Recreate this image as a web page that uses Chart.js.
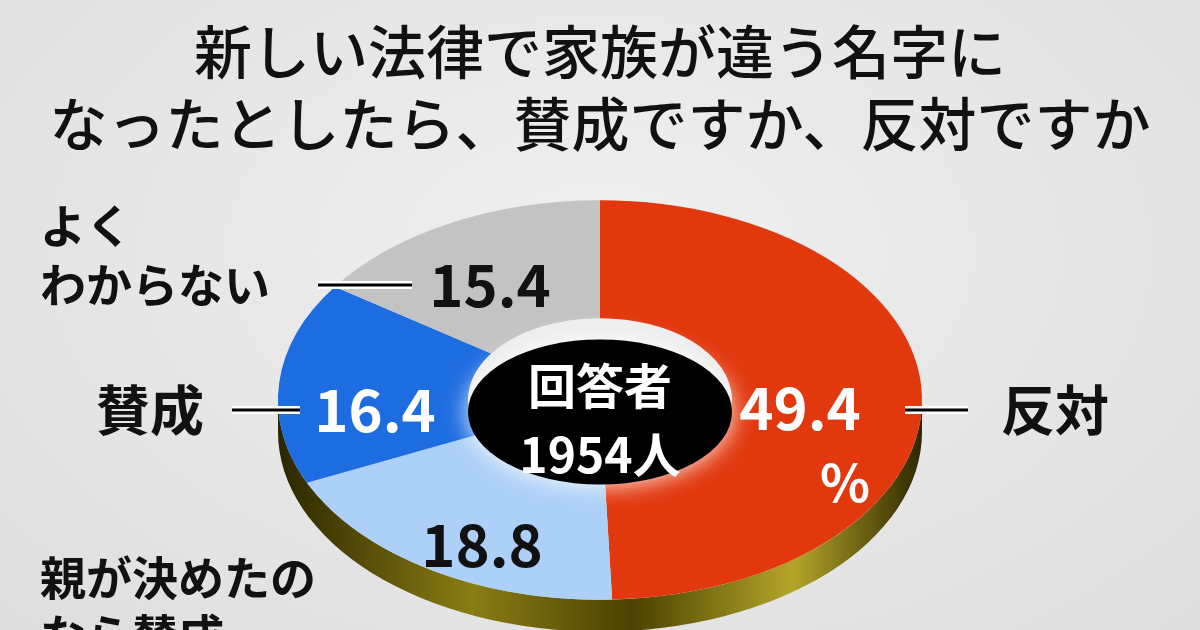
<!DOCTYPE html>
<html><head><meta charset="utf-8">
<script src="https://cdn.jsdelivr.net/npm/chart.js@4.4.0/dist/chart.umd.min.js"></script>
<style>
html,body{margin:0;padding:0;background:#e4e4e4;}
#wrap{width:1200px;height:630px;overflow:hidden;position:relative;
 background:radial-gradient(ellipse at 50% 40%,#f0f0f0 0%,#dedede 100%);}
</style></head><body>
<div id="wrap"><canvas id="c" width="1200" height="900"></canvas></div>
<script>
const labels = ['反対', '親が決めたなら賛成', '賛成', 'よくわからない'];
const values = [49.4, 18.8, 16.4, 15.4];
const colors = ['#e2380e', '#acd0f7', '#1d6ce0', '#c3c3c3'];
const titleLines = ['新しい法律で家族が違う名字に', 'なったとしたら、賛成ですか、反対ですか'];
const FONT = '"Noto Sans CJK JP", "Noto Sans", sans-serif';
const SY = 0.62;

const squash = {
    id: 'squash',
    beforeDatasetsDraw(chart) {
        const meta = chart.getDatasetMeta(0).data[0];
        const ctx = chart.ctx;
        const cx = meta.x, cy = meta.y, r = meta.outerRadius;
        // 3D side
        ctx.save();
        const g = ctx.createLinearGradient(cx - r, 0, cx + r, 0);
        g.addColorStop(0, '#2b2600');
        g.addColorStop(0.3, '#8a7d14');
        g.addColorStop(0.55, '#4a4200');
        g.addColorStop(0.8, '#b5a52a');
        g.addColorStop(1, '#2e2800');
        ctx.fillStyle = g;
        ctx.beginPath();
        ctx.ellipse(cx, cy + 32, r, r * SY, 0, 0, Math.PI);
        ctx.lineTo(cx - r, cy);
        ctx.ellipse(cx, cy, r, r * SY, 0, Math.PI, 0, true);
        ctx.closePath();
        ctx.fill();
        ctx.restore();
        ctx.save();
        ctx.translate(cx, cy);
        ctx.scale(1, SY);
        ctx.translate(-cx, -cy);
    },
    afterDatasetsDraw(chart) {
        const ctx = chart.ctx;
        ctx.restore();
        const meta = chart.getDatasetMeta(0).data[0];
        const cx = meta.x, cy = meta.y, ir = meta.innerRadius;
        ctx.save();
        ctx.shadowColor = 'rgba(255,255,255,0.95)';
        ctx.shadowBlur = 25;
        ctx.fillStyle = '#000';
        ctx.beginPath();
        ctx.ellipse(cx, cy + 12, ir, ir * 0.55, 0, 0, Math.PI * 2);
        ctx.fill();
        ctx.restore();
    }
};

function txt(ctx, s, x, y, size, color, align, outline) {
    ctx.font = 'bold ' + size + 'px ' + FONT;
    ctx.textAlign = align || 'center';
    ctx.textBaseline = 'middle';
    if (outline) {
        ctx.lineWidth = 6;
        ctx.strokeStyle = outline;
        ctx.lineJoin = 'round';
        ctx.strokeText(s, x, y);
    }
    ctx.fillStyle = color;
    ctx.fillText(s, x, y);
}
function leader(ctx, x1, x2, y) {
    ctx.lineCap = 'butt';
    ctx.strokeStyle = '#fff'; ctx.lineWidth = 8;
    ctx.beginPath(); ctx.moveTo(x1, y); ctx.lineTo(x2, y); ctx.stroke();
    ctx.strokeStyle = '#000'; ctx.lineWidth = 3;
    ctx.beginPath(); ctx.moveTo(x1, y); ctx.lineTo(x2, y); ctx.stroke();
}

const annot = {
    id: 'annot',
    afterDraw(chart) {
        const ctx = chart.ctx;
        ctx.save();
        ctx.font = '500 58px ' + FONT;
        ctx.fillStyle = '#111';
        ctx.textAlign = 'center';
        ctx.textBaseline = 'middle';
        ctx.fillText(titleLines[0], 600, 52);
        ctx.fillText(titleLines[1], 600, 124);

        txt(ctx, values[0].toFixed(1), 800, 408, 58, '#fff');
        txt(ctx, '%', 845, 482, 52, '#fff');
        txt(ctx, values[1].toFixed(1), 482, 545, 58, '#111');
        txt(ctx, values[2].toFixed(1), 375, 410, 58, '#fff');
        txt(ctx, values[3].toFixed(1), 490, 285, 58, '#111');

        txt(ctx, '回答者', 600, 386, 48, '#fff');
        txt(ctx, '1954人', 600, 455, 48, '#fff');

        leader(ctx, 905, 968, 410);
        leader(ctx, 232, 300, 410);
        leader(ctx, 318, 412, 285);
        txt(ctx, '反対', 1055, 410, 54, '#111');
        txt(ctx, '賛成', 150, 410, 54, '#111');
        txt(ctx, 'よく', 40, 226, 46, '#111', 'left');
        txt(ctx, 'わからない', 40, 285, 46, '#111', 'left');
        txt(ctx, '親が決めたの', 40, 578, 46, '#111', 'left');
        txt(ctx, 'なら賛成', 40, 636, 46, '#111', 'left');
        ctx.restore();
    }
};

new Chart(document.getElementById('c'), {
    type: 'doughnut',
    data: {
        labels: labels,
        datasets: [{
            data: values,
            backgroundColor: colors,
            borderWidth: 0,
            cutout: '41%'
        }]
    },
    options: {
        responsive: false,
        animation: false,
        rotation: 0,
        layout: { padding: { left: 278, right: 278, top: 78, bottom: 178 } },
        plugins: { legend: { display: false }, tooltip: { enabled: false } }
    },
    plugins: [squash, annot]
});
</script>
</body></html>
